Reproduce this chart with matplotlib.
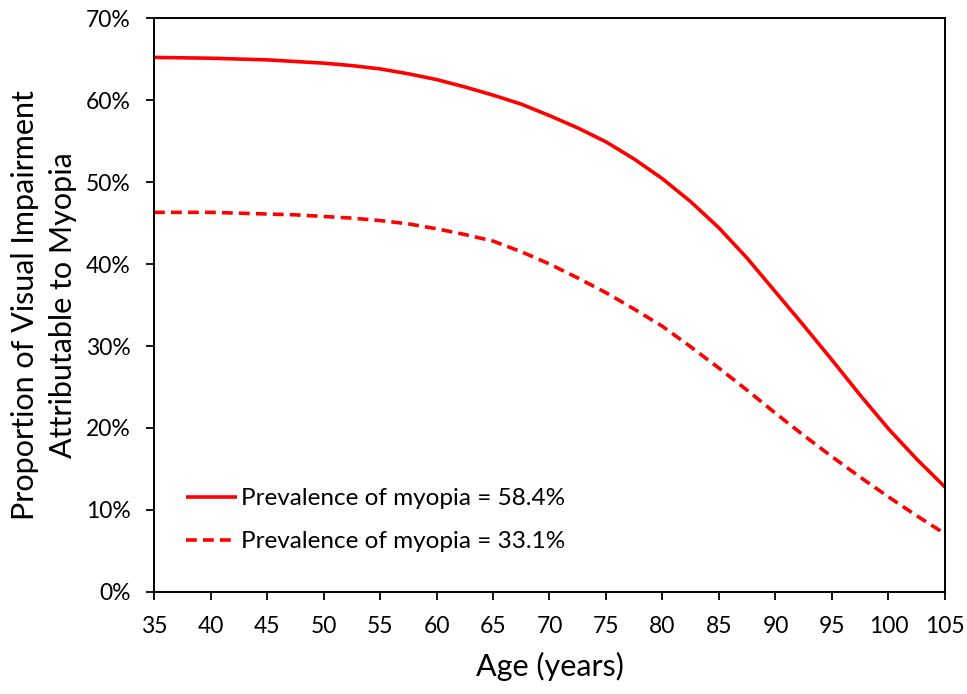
import matplotlib
matplotlib.use("Agg")
import matplotlib.pyplot as plt
from matplotlib.ticker import FuncFormatter

plt.rcParams['font.family'] = ['Lato', 'DejaVu Sans']

ages = [35, 37.5, 40, 42.5, 45, 47.5, 50, 52.5, 55, 57.5, 60, 62.5, 65, 67.5, 70,
        72.5, 75, 77.5, 80, 82.5, 85, 87.5, 90, 92.5, 95, 97.5, 100, 102.5, 105]
high_myopia = [65.2, 65.15, 65.1, 65.0, 64.9, 64.7, 64.5, 64.2, 63.8, 63.2, 62.5, 61.6, 60.6, 59.5, 58.1,
               56.6, 54.9, 52.8, 50.4, 47.6, 44.4, 40.7, 36.6, 32.5, 28.3, 24.0, 19.9, 16.2, 12.8]
low_myopia = [46.3, 46.3, 46.3, 46.2, 46.1, 46.0, 45.8, 45.6, 45.3, 44.9, 44.3, 43.6, 42.8, 41.5, 40.0,
              38.3, 36.5, 34.5, 32.4, 29.9, 27.3, 24.6, 21.8, 19.1, 16.5, 14.0, 11.6, 9.3, 7.1]
labels = ["Prevalence of myopia = 58.4%", "Prevalence of myopia = 33.1%"]
xticks = list(range(35, 106, 5))
yticks = list(range(0, 71, 10))

fig = plt.figure(figsize=(9.67, 6.94), dpi=100)
ax = fig.add_axes([0.1593, 0.147, 0.8179, 0.827])

ax.plot(ages, high_myopia, color='#ff0000', lw=2.6, solid_capstyle='butt', label=labels[0])
ax.plot(ages, low_myopia, color='#ff0000', lw=2.6, dashes=(3.0, 1.7), label=labels[1])

ax.set_xlim(35, 105)
ax.set_ylim(0, 70)
ax.set_xticks(xticks)
ax.set_yticks(yticks)
ax.yaxis.set_major_formatter(FuncFormatter(lambda v, p: f"{int(v)}%"))
ax.tick_params(direction='out', length=6, width=1.3, labelsize=16.5, colors='black')
ax.tick_params(axis='x', pad=11)
ax.tick_params(axis='y', pad=11)
for s in ax.spines.values():
    s.set_linewidth(1.4)

ax.set_xlabel("Age (years)", fontsize=22, labelpad=11)
ax.set_ylabel("Proportion of Visual Impairment\nAttributable to Myopia", fontsize=22,
              labelpad=6, linespacing=1.45)

ax.legend(loc='upper left', bbox_to_anchor=(0.04, 0.181), frameon=False, fontsize=17.5,
          handlelength=2.1, handletextpad=0.17, labelspacing=0.92,
          borderpad=0, borderaxespad=0)

fig.savefig("out.png", dpi=100)
